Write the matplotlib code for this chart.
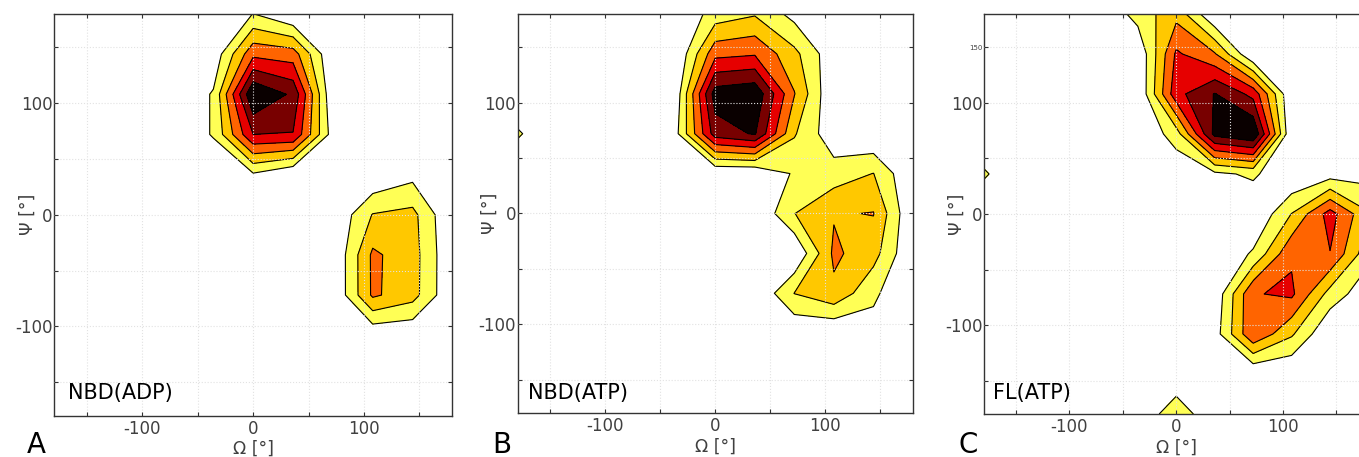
import numpy as np
import matplotlib.pyplot as plt

# ======================================================
# DATA  (density on a 36 deg grid, rows from psi=180 down to psi=-180)
# ======================================================

ANGLES = [-180, -144, -108, -72, -36, 0, 36, 72, 108, 144, 180]

NBD_ADP = [
    [0, 0, 0, 0, 0, 1.02, 0, 0, 0, 0, 0],
    [0, 0, 0, 0, 0.3, 3.75, 3.5, 0, 0, 0, 0],
    [0, 0, 0, 0, 1.1, 7.0, 5.8, 0.05, 0, 0, 0],
    [0, 0, 0, 0, 1.1, 5.0, 4.95, 0.5, 0, 0, 0],
    [0, 0, 0, 0, 0, 0.85, 0, 0, 0.06, 0.69, 0],
    [0, 0, 0, 0, 0, 0, 0, 0.06, 2.05, 2.3, 0],
    [0, 0, 0, 0, 0, 0, 0, 0, 3.19, 2.43, 0.09],
    [0, 0, 0, 0, 0, 0, 0, 0, 3.17, 2.4, 0.09],
    [0, 0, 0, 0, 0, 0, 0, 0, 0.17, 0.11, 0],
    [0, 0, 0, 0, 0, 0, 0, 0, 0, 0, 0],
    [0, 0, 0, 0, 0, 0, 0, 0, 0, 0, 0],
]

NBD_ATP = [
    [0, 0, 0, 0, 0, 1.44, 1.9, 0.65, 0, 0, 0],
    [0, 0, 0, 0, 0, 3.7, 3.9, 2.28, 0.26, 0, 0],
    [0, 0, 0, 0, 0.33, 6.5, 6.8, 3.05, 0, 0, 0],
    [1.15, 0, 0, 0, 0.7, 5.5, 6.1, 2.1, 0.3, 0, 0],
    [0, 0, 0, 0, 0, 0, 0, 1.125, 1.48, 2.02, 0],
    [0, 0, 0, 0, 0, 0, 0, 1.98, 2.92, 3.04, 0],
    [0, 0, 0, 0, 0, 0, 0, 0, 3.2, 2.4, 0],
    [0, 0, 0, 0, 0, 0, 0, 2.02, 2.77, 1.2, 0],
    [0, 0, 0, 0, 0, 0, 0, 0.1, 0, 0.6, 0],
    [0, 0, 0, 0, 0, 0, 0, 0, 0, 0, 0],
    [0, 0, 0, 0, 0, 0, 0, 0, 0, 0, 0],
]

FL_ATP = [
    [0, 0, 0, 0, 1.4, 2.67, 0, 0, 0, 0, 0],
    [0, 0, 0, 0, 0.09, 4.17, 3.1, 0, 0, 0, 0],
    [0, 0, 0, 0, 0, 4.66, 6.05, 4.7, 0, 0, 0],
    [0, 0, 0, 0, 0, 1.5, 6.3, 7.0, 0, 0, 0],
    [1.15, 0, 0, 0, 0, 0.21, 0.75, 1.2, 0, 0.52, 0.6],
    [0, 0, 0, 0, 0, 0, 0, 0, 2.03, 4.43, 2.1],
    [0, 0, 0, 0, 0, 0, 0, 1.15, 3.84, 3.96, 1.3],
    [0, 0, 0, 0, 0, 0, 0.24, 3.92, 4.2, 1.6, 0.3],
    [0, 0, 0, 0, 0, 0, 0.52, 3.9, 2.15, 0, 0],
    [0, 0, 0, 0, 0, 0, 0, 0, 0, 0, 0],
    [0, 0, 0, 0, 0, 1.8, 0, 0, 0, 0, 0],
]

PANEL_NAMES = ['NBD(ADP)', 'NBD(ATP)', 'FL(ATP)']
PANEL_LETTERS = ['A', 'B', 'C']

LEVELS = [1, 2, 3, 4, 5, 6, 10]
COLORS = ['#ffff55', '#ffc800', '#ff6400', '#e60000', '#780000', '#0a0000']

TICKS = [-150, -100, -50, 0, 50, 100, 150]
TICK_LABELS = ['', '-100', '', '0', '', '100', '']
TICK_LABELS_C_Y = ['', '-100', '', '0', '', '100', '150']

# axes rectangles in figure fraction
RECTS = [
    [0.0397, 0.0908, 0.2932, 0.8786],
    [0.3808, 0.0963, 0.2910, 0.8731],
    [0.7241, 0.0941, 0.2829, 0.8753],
]
YLABEL_X = [-0.065, -0.071, -0.07]
NAME_POS = [(0.035, 0.041), (0.027, 0.035), (0.023, 0.0375)]
LETTER_X = [27, 492, 958]

TXT = '#404040'

fig = plt.figure(figsize=(13.59, 4.57), dpi=100)

grids = [NBD_ADP, NBD_ATP, FL_ATP]

for k in range(3):
    ax = fig.add_axes(RECTS[k])
    z = np.flipud(np.array(grids[k], dtype=float))
    x = np.array(ANGLES)
    y = np.array(ANGLES)

    ax.contourf(x, y, z, levels=LEVELS, colors=COLORS)
    ax.contour(x, y, z, levels=LEVELS[:-1], colors='k', linewidths=0.8)

    ax.set_xlim(-180, 180)
    ax.set_ylim(-180, 180)
    ax.set_xticks(TICKS)
    ax.set_yticks(TICKS)
    ax.set_xticklabels(TICK_LABELS)
    if k == 2:
        ax.set_yticklabels(TICK_LABELS_C_Y)
    else:
        ax.set_yticklabels(TICK_LABELS)

    ax.tick_params(direction='in', length=3, width=0.8, color='#333333',
                   top=True, right=True, labelsize=12, labelcolor=TXT)
    ax.tick_params(axis='y', pad=1)
    ax.tick_params(axis='x', pad=3)
    if k == 2:
        for lab in ax.get_yticklabels():
            if lab.get_text() == '150':
                lab.set_fontsize(5)

    ax.set_axisbelow(False)
    ax.grid(True, linestyle=':', color='#e2e2e2', linewidth=0.8)

    for sp in ax.spines.values():
        sp.set_color('#333333')
        sp.set_linewidth(1.0)

    ax.set_xlabel('Ω [°]', fontsize=12.5, color=TXT)
    ax.xaxis.set_label_coords(0.5, -0.084)
    ax.xaxis.label.set_va('center')
    ax.set_ylabel('Ψ [°]', fontsize=12.5, color=TXT)
    ax.yaxis.set_label_coords(YLABEL_X[k], 0.5)
    ax.yaxis.label.set_va('center')

    ax.text(NAME_POS[k][0], NAME_POS[k][1], PANEL_NAMES[k], transform=ax.transAxes,
            fontsize=15, color='k', va='baseline', ha='left')

    fig.text(LETTER_X[k] / 1359, 0.008, PANEL_LETTERS[k], fontsize=20,
             color='k', va='baseline', ha='left')

fig.savefig('out.png', dpi=100)
